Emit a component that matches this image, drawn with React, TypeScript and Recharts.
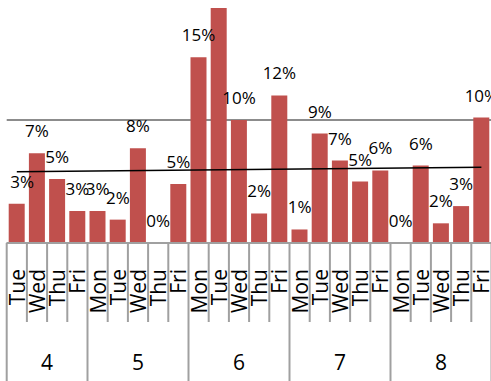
import React from 'react';
import { ComposedChart, Bar, Line, XAxis, YAxis, CartesianGrid, LabelList } from 'recharts';

// Daily share per working day, grouped by calendar week
const days = ['Tue', 'Wed', 'Thu', 'Fri',
  'Mon', 'Tue', 'Wed', 'Thu', 'Fri',
  'Mon', 'Tue', 'Wed', 'Thu', 'Fri',
  'Mon', 'Tue', 'Wed', 'Thu', 'Fri',
  'Mon', 'Tue', 'Wed', 'Thu', 'Fri'];
const weeks = ['4', '4', '4', '4',
  '5', '5', '5', '5', '5',
  '6', '6', '6', '6', '6',
  '7', '7', '7', '7', '7',
  '8', '8', '8', '8', '8'];
const shares = [3.2, 7.3, 5.2, 2.6,
  2.6, 1.9, 7.7, 0, 4.8,
  15.1, 19.1, 10.0, 2.4, 12.0,
  1.1, 8.9, 6.7, 5.0, 5.9,
  0, 6.3, 1.6, 3.0, 10.2];
// Linear trend line end points (percent)
const trendStart = 5.8;
const trendEnd = 6.15;
const yTicks = [0, 10, 20];

const data = days.map((day, i) => ({
  idx: i,
  day,
  week: weeks[i],
  share: shares[i],
  trend: i === 0 ? trendStart : i === days.length - 1 ? trendEnd : null,
}));

const CHART_W = 492;
const CHART_H = 401;
const MARGIN = { top: 17, right: 0.5, bottom: 0, left: 6.7 };
const AXIS_H = 138;
const BAND = (CHART_W - MARGIN.left - MARGIN.right) / days.length;
const FONT = '"Open Sans", sans-serif';
const SEP = '#a0a0a0';

const weekSize = (w: string) => weeks.filter((x) => x === w).length;

const DayTick = (props: any) => {
  const { x, y, payload } = props;
  const i: number = payload.value;
  const weekStart = i === 0 || weeks[i - 1] !== weeks[i];
  const last = i === days.length - 1;
  const left = x - BAND / 2;
  return (
    <g>
      <line x1={left} x2={left} y1={y} y2={y + (weekStart ? AXIS_H : 79)} stroke={SEP} strokeWidth={2} />
      {last && (
        <line x1={x + BAND / 2} x2={x + BAND / 2} y1={y} y2={y + AXIS_H} stroke={SEP} strokeWidth={2} />
      )}
      <text
        x={x + 8}
        y={y + 26}
        transform={`rotate(-90, ${x + 8}, ${y + 26})`}
        textAnchor="end"
        fontFamily={FONT}
        fontSize={21}
        fill="#000"
      >
        {days[i]}
      </text>
      {weekStart && (
        <text
          x={left + (weekSize(weeks[i]) * BAND) / 2}
          y={y + 127}
          textAnchor="middle"
          fontFamily={FONT}
          fontSize={21}
          fill="#000"
        >
          {weeks[i]}
        </text>
      )}
    </g>
  );
};

// Percent label placed above each bar top (also for zero-height bars)
const ShareLabel = (props: any) => {
  const { x, y, value } = props;
  if (value === null || value === undefined) return null;
  const cx = Math.max(x, MARGIN.left + 15.5);
  return (
    <text x={cx} y={y - 16} textAnchor="middle" fontFamily={FONT} fontSize={17} fill="#000">
      {`${Math.round(value)}%`}
    </text>
  );
};

export default function App() {
  return (
    <div style={{ position: 'absolute', left: 0, top: 0, width: 491, height: 381, overflow: 'hidden', background: '#fff' }}>
      <div style={{ position: 'absolute', left: 0, top: -20 }}>
        <ComposedChart width={CHART_W} height={CHART_H} data={data} margin={MARGIN}>
          <CartesianGrid horizontal vertical={false} stroke="#8c8c8c" strokeWidth={2} />
          <YAxis hide domain={[0, 20]} ticks={yTicks} />
          <XAxis
            dataKey="idx"
            type="category"
            interval={0}
            height={AXIS_H}
            tickLine={false}
            tickSize={0}
            tickMargin={0}
            axisLine={{ stroke: SEP, strokeWidth: 2 }}
            tick={<DayTick />}
          />
          <Bar dataKey="share" fill="#C0504D" barSize={16} isAnimationActive={false} />
          <Line
            dataKey="share"
            stroke="none"
            dot={false}
            activeDot={false}
            isAnimationActive={false}
          >
            <LabelList dataKey="share" content={<ShareLabel />} />
          </Line>
          <Line
            dataKey="trend"
            stroke="#000"
            strokeWidth={1.5}
            dot={false}
            connectNulls
            isAnimationActive={false}
          />
        </ComposedChart>
      </div>
    </div>
  );
}
